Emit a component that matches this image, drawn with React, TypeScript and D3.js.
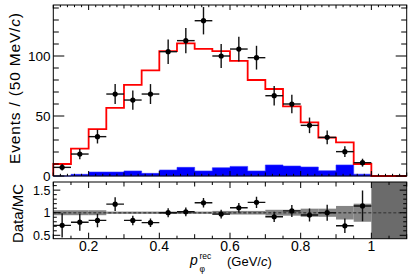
import React from "react";
import * as d3 from "d3";

const binCenters = [0.125, 0.175, 0.225, 0.275, 0.325, 0.375, 0.425, 0.475, 0.525, 0.575, 0.625, 0.675, 0.725, 0.775, 0.825, 0.875, 0.925, 0.975];
const binHalfWidth = 0.025;
const dataCounts = [7.2, 18.3, 32.8, 68.3, 63.3, 68.3, 103.6, 112.8, 129.4, 100, 105.8, 98.6, 66.9, 60, 42.2, 32.2, 20.3, 11.1];
const dataErrors = [2.7, 4.3, 5.7, 8.3, 8.0, 8.3, 10.2, 10.6, 11.4, 10, 10.3, 9.9, 8.2, 7.7, 6.5, 5.7, 4.5, 3.3];
const mcTotal = [10, 22.8, 39, 56.7, 76, 88, 104, 110.5, 106, 104, 96, 80, 72.5, 58, 44.7, 32, 28, 10];
const background = [0, 1.4, 3.3, 3.3, 4.2, 2.2, 5, 7.2, 4.2, 6.9, 8, 4.2, 9.2, 8.3, 7.5, 4.4, 9.2, 1.5];
const ratio = [0.72, 0.79, 0.83, 1.19, 0.83, 0.78, 1.0, 1.02, 1.22, 0.97, 1.11, 1.23, 0.91, 1.04, 0.95, 1.0, 0.71, 1.15];
const ratioErrors = [0.27, 0.19, 0.15, 0.15, 0.105, 0.094, 0.098, 0.096, 0.107, 0.096, 0.107, 0.124, 0.113, 0.133, 0.145, 0.178, 0.161, 0.34];
const mcRelErrors = [0.055, 0.055, 0.055, 0.025, 0.025, 0.025, 0.025, 0.025, 0.025, 0.04, 0.04, 0.04, 0.065, 0.065, 0.09, 0.09, 0.15, 0.2];
const xTickLabels = [0.2, 0.4, 0.6, 0.8, 1];
const topYTicks = [0, 50, 100];
const botYTicks = [0.5, 1, 1.5];

const W = 411;
const H = 279;
const L = 53.3;
const R = 406.7;
const topT = 5;
const topB = 176;
const botT = 182;
const botB = 238.7;
const FONT = "'Liberation Sans', Arial, Helvetica, sans-serif";

export default function App() {
  const x = d3.scaleLinear().domain([0.1, 1.1]).range([L, R]);
  const yT = d3.scaleLinear().domain([0, 142.5]).range([topB, topT]);
  const yB = d3.scaleLinear().domain([0.425, 1.68]).range([botB, botT]);

  const mcPts: [number, number][] = [[0.1, 0]];
  binCenters.forEach((c, i) => {
    mcPts.push([c - binHalfWidth, mcTotal[i]]);
    mcPts.push([c + binHalfWidth, mcTotal[i]]);
  });
  const lastHi = binCenters[binCenters.length - 1] + binHalfWidth;
  mcPts.push([lastHi, 0]);
  mcPts.push([1.1, 0]);
  const mcLine = d3.line<[number, number]>().x((d) => x(d[0])).y((d) => yT(d[1]))(mcPts) || "";

  const bgPts: [number, number][] = binCenters.map((c, i) => [c - binHalfWidth, background[i]]);
  bgPts.push([lastHi, background[background.length - 1]]);
  const bgArea =
    d3
      .area<[number, number]>()
      .x((d) => x(d[0]))
      .y0(yT(0))
      .y1((d) => yT(d[1]))
      .curve(d3.curveStepAfter)(bgPts) || "";

  const topMinorX = d3.range(0, 51).map((i) => 0.1 + i * 0.02).filter((v) => v <= 1.1001);
  const botMinorX = d3.range(0, 21).map((i) => 0.1 + i * 0.05);
  const topMinorY = d3.range(0, 15).map((i) => i * 10);
  const botMinorY = d3.range(5, 17).map((i) => i / 10);

  const isMult = (v: number, m: number) => Math.abs(v / m - Math.round(v / m)) < 1e-6;

  const tickStroke = { stroke: "#000", strokeWidth: 1 };

  return (
    <svg width={W} height={H} style={{ position: "absolute", left: 0, top: 0, background: "#fff" }} fontFamily={FONT}>
      <defs>
        <clipPath id="botclip">
          <rect x={L} y={botT} width={R - L} height={botB - botT} />
        </clipPath>
      </defs>
      <rect x={0} y={0} width={W} height={H} fill="#fff" />

      {/* ---------- TOP PANEL ---------- */}
      <path d={bgArea} fill="#0000ff" stroke="#3030ff" strokeWidth={0.6} />
      <path d={mcLine} fill="none" stroke="#ff0000" strokeWidth={1.8} />

      {binCenters.map((c, i) => (
        <g key={"d" + i} stroke="#111" strokeWidth={1.4}>
          <line x1={x(c - binHalfWidth)} x2={x(c + binHalfWidth)} y1={yT(dataCounts[i])} y2={yT(dataCounts[i])} />
          <line x1={x(c)} x2={x(c)} y1={yT(dataCounts[i] - dataErrors[i])} y2={yT(dataCounts[i] + dataErrors[i])} />
          <circle cx={x(c)} cy={yT(dataCounts[i])} r={2.6} fill="#000" stroke="none" />
        </g>
      ))}

      {topMinorX.map((v, i) => {
        const len = isMult(v, 0.2) ? 5 : isMult(v, 0.1) ? 3.5 : 2.2;
        return (
          <g key={"tx" + i} {...tickStroke}>
            <line x1={x(v)} x2={x(v)} y1={topT} y2={topT + len} />
            <line x1={x(v)} x2={x(v)} y1={topB} y2={topB - len} />
          </g>
        );
      })}
      {topMinorY.map((v, i) => {
        const len = isMult(v, 50) ? 11 : 5.5;
        return (
          <g key={"ty" + i} {...tickStroke}>
            <line x1={L} x2={L + len} y1={yT(v)} y2={yT(v)} />
            <line x1={R} x2={R - len} y1={yT(v)} y2={yT(v)} />
          </g>
        );
      })}
      {topYTicks.map((v) => (
        <text key={"tyl" + v} x={50.5} y={yT(v)} dy="0.36em" textAnchor="end" fontSize={13.5} fill="#000">
          {v}
        </text>
      ))}
      <rect x={L} y={topT} width={R - L} height={topB - topT} fill="none" stroke="#000" strokeWidth={1} />
      <text
        transform={`translate(19.5, 13) rotate(-90)`}
        textAnchor="end"
        fontSize={15.5}
        textLength={151}
        lengthAdjust="spacing"
        fill="#000"
      >
        Events / (50 MeV/<tspan fontStyle="italic">c</tspan>)
      </text>

      {/* ---------- BOTTOM PANEL ---------- */}
      <g clipPath="url(#botclip)">
        {binCenters.map((c, i) => (
          <rect
            key={"band" + i}
            x={x(c - binHalfWidth)}
            width={x(c + binHalfWidth) - x(c - binHalfWidth)}
            y={yB(1 + mcRelErrors[i])}
            height={yB(1 - mcRelErrors[i]) - yB(1 + mcRelErrors[i])}
            fill="#707070"
            opacity={0.85}
          />
        ))}
        <rect x={x(lastHi)} y={botT} width={x(1.1) - x(lastHi)} height={botB - botT} fill="#6b6b6b" />
        <line x1={L} x2={R} y1={yB(1)} y2={yB(1)} stroke="#444" strokeWidth={1.5} strokeDasharray="3,2" />
        {binCenters.map((c, i) => (
          <g key={"r" + i} stroke="#111" strokeWidth={1.4}>
            <line x1={x(c - binHalfWidth)} x2={x(c + binHalfWidth)} y1={yB(ratio[i])} y2={yB(ratio[i])} />
            <line x1={x(c)} x2={x(c)} y1={yB(ratio[i] - ratioErrors[i])} y2={yB(ratio[i] + ratioErrors[i])} />
            <circle cx={x(c)} cy={yB(ratio[i])} r={2.6} fill="#000" stroke="none" />
          </g>
        ))}
      </g>

      {botMinorX.map((v, i) => {
        const len = isMult(v, 0.2) ? 6 : isMult(v, 0.1) ? 4.5 : 3;
        return (
          <g key={"bx" + i} {...tickStroke}>
            <line x1={x(v)} x2={x(v)} y1={botT} y2={botT + len} />
            <line x1={x(v)} x2={x(v)} y1={botB} y2={botB - len} />
          </g>
        );
      })}
      {botMinorY.map((v, i) => {
        const len = isMult(v, 0.5) ? 7 : 3.5;
        return (
          <g key={"by" + i} {...tickStroke}>
            <line x1={L} x2={L + len} y1={yB(v)} y2={yB(v)} />
            <line x1={R} x2={R - len} y1={yB(v)} y2={yB(v)} />
          </g>
        );
      })}
      {botYTicks.map((v) => (
        <text key={"byl" + v} x={50.5} y={yB(v)} dy="0.36em" textAnchor="end" fontSize={12.5} fill="#000">
          {v}
        </text>
      ))}
      {xTickLabels.map((v) => (
        <text key={"bxl" + v} x={x(v)} y={251} textAnchor="middle" fontSize={14} fill="#000">
          {v}
        </text>
      ))}
      <rect x={L} y={botT} width={R - L} height={botB - botT} fill="none" stroke="#000" strokeWidth={1} />
      <text transform={`translate(23, 213.5) rotate(-90)`} textAnchor="middle" fontSize={15} fill="#000">
        Data/MC
      </text>

      <text x={190} y={265} fontSize={14} fill="#000">
        <tspan fontStyle="italic">p</tspan>
      </text>
      <text x={199.5} y={259} fontSize={8.5} fill="#000">
        rec
      </text>
      <text x={199.5} y={272} fontSize={8.5} fill="#000">
        φ
      </text>
      <text x={227} y={266} fontSize={13} fill="#000">
        (GeV/<tspan fontStyle="italic">c</tspan>)
      </text>
    </svg>
  );
}
